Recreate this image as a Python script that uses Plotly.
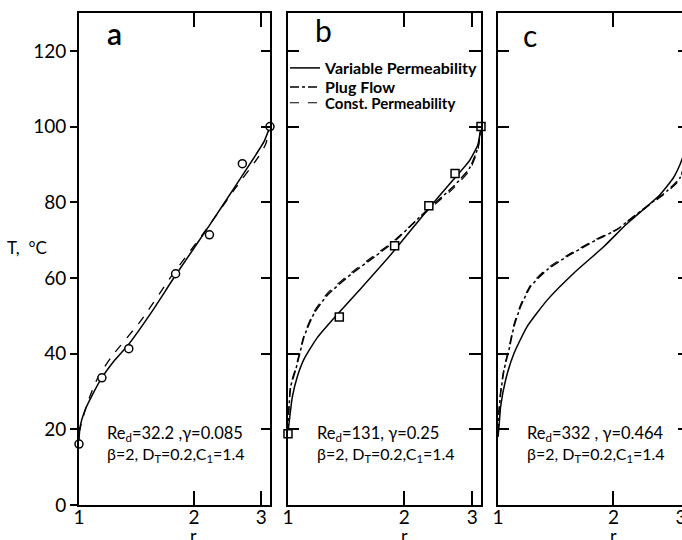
import math
import plotly.graph_objects as go

# ---------------- data ----------------
# Panel a
a_vp_r = [1.0, 1.006, 1.037, 1.079, 1.146, 1.241, 1.345, 1.547, 1.779, 2.195, 2.577, 2.906, 3.05, 3.162]
a_vp_T = [17.0, 20.6, 25.1, 28.7, 33.5, 38.3, 42.3, 50.9, 60.3, 73.9, 84.5, 92.6, 96.0, 100.0]
a_cp_r = [1.0, 1.026, 1.068, 1.123, 1.217, 1.457, 1.744, 2.16, 2.55, 2.95, 3.08, 3.162]
a_cp_T = [19.0, 23.4, 28.7, 33.9, 39.2, 48.9, 60.4, 73.0, 83.3, 92.0, 95.3, 100.0]
a_pts_r = [1.0, 1.148, 1.35, 1.79, 2.195, 2.677, 3.162]
a_pts_T = [16.1, 33.6, 41.3, 61.1, 71.4, 90.2, 100.0]

# Panel b
b_vp_r = [1.0, 1.006, 1.026, 1.057, 1.101, 1.192, 1.345, 1.547, 1.852, 2.321, 2.673, 2.953, 3.104, 3.162]
b_vp_T = [19.0, 21.5, 28.5, 33.9, 38.6, 44.3, 50.5, 57.3, 66.3, 78.5, 85.8, 91.0, 95.2, 100.0]
b_pf_r = [1.0, 1.005, 1.016, 1.047, 1.068, 1.101, 1.169, 1.266, 1.458, 1.676, 1.87, 2.185, 2.32, 2.673, 2.953, 3.104, 3.162]
b_pf_T = [19.0, 25.0, 31.3, 35.7, 39.2, 44.5, 50.7, 55.5, 61.0, 65.6, 69.3, 75.9, 78.4, 84.0, 89.0, 94.4, 100.0]
b_cp_r = [1.0, 1.005, 1.016, 1.047, 1.068, 1.101, 1.169, 1.266, 1.458, 1.676, 1.87, 2.185, 2.32, 2.673, 2.953, 3.104, 3.162]
b_cp_T = [19.0, 25.5, 31.8, 36.3, 39.8, 45.0, 51.2, 56.0, 61.4, 66.0, 69.6, 75.8, 78.1, 83.5, 88.4, 93.8, 100.0]
b_pts_r = [1.0, 1.358, 1.889, 2.317, 2.709, 3.162]
b_pts_T = [18.8, 49.7, 68.5, 79.1, 87.6, 100.0]

# Panel c
c_vp_r = [1.0, 1.006, 1.016, 1.047, 1.101, 1.192, 1.345, 1.578, 1.889, 2.131, 2.254, 2.644, 2.864, 2.98, 3.08, 3.162]
c_vp_T = [18.0, 20.7, 26.0, 33.1, 40.1, 47.2, 54.2, 61.3, 68.3, 73.6, 75.8, 82.0, 86.4, 89.9, 94.0, 100.0]
c_pf_r = [1.0, 1.005, 1.016, 1.037, 1.068, 1.101, 1.146, 1.217, 1.345, 1.516, 1.8, 2.046, 2.166, 2.54, 2.754, 2.98, 3.08, 3.162]
c_pf_T = [19.0, 24.0, 29.5, 35.7, 41.0, 47.2, 52.5, 57.8, 62.2, 65.7, 70.0, 72.8, 74.8, 80.2, 82.9, 86.4, 91.0, 100.0]
c_cp_r = [1.0, 1.005, 1.016, 1.037, 1.068, 1.101, 1.146, 1.217, 1.345, 1.516, 1.8, 2.046, 2.166, 2.54, 2.754, 2.98, 3.08, 3.162]
c_cp_T = [19.0, 24.5, 30.2, 36.3, 41.6, 47.8, 53.0, 58.2, 62.6, 66.0, 70.2, 72.9, 74.8, 80.0, 82.6, 86.0, 90.6, 100.0]

y_ticks = [0, 20, 40, 60, 80, 100, 120]
x_ticks = [1, 2, 3]
series_names = ["Variable Permeability", "Plug Flow", "Const. Permeability"]
panel_labels = ["a", "b", "c"]
ann_line1 = ["Re<sub>d</sub>=32.2 ,γ=0.085", "Re<sub>d</sub>=131, γ=0.25", "Re<sub>d</sub>=332 , γ=0.464"]
ann_line2 = ["β=2, D<sub>T</sub>=0.2,C<sub>1</sub>=1.4"] * 3

# ---------------- figure ----------------
W, H = 682, 540
FONT = "Lato"
fig = go.Figure()

def line(xa, ya, r, T, dash, name, legend=None, width=1.5):
    fig.add_trace(go.Scatter(x=r, y=T, mode="lines", xaxis=xa, yaxis=ya,
                             line=dict(color="black", width=width, dash=dash, shape="spline", smoothing=0.5),
                             name=name, showlegend=legend is not None,
                             legend=legend if legend else "legend", hoverinfo="skip"))

def pts(xa, ya, r, T, symbol):
    fig.add_trace(go.Scatter(x=r, y=T, mode="markers", xaxis=xa, yaxis=ya, cliponaxis=False,
                             marker=dict(symbol=symbol, size=8, color="white",
                                         line=dict(color="black", width=1.5)),
                             showlegend=False, hoverinfo="skip"))

# panel a
line("x", "y", a_vp_r, a_vp_T, "solid", series_names[0])
line("x", "y", a_cp_r, a_cp_T, "dash", series_names[2], None, 1.3)
pts("x", "y", a_pts_r, a_pts_T, "circle")
# panel b
line("x2", "y2", b_vp_r, b_vp_T, "solid", series_names[0], "legend")
line("x2", "y2", b_pf_r, b_pf_T, "dashdot", series_names[1], "legend2")
line("x2", "y2", b_cp_r, b_cp_T, "dash", series_names[2], "legend3", 1.1)
pts("x2", "y2", b_pts_r, b_pts_T, "square")
# panel c
line("x3", "y3", c_vp_r, c_vp_T, "solid", series_names[0])
line("x3", "y3", c_pf_r, c_pf_T, "dashdot", series_names[1])
line("x3", "y3", c_cp_r, c_cp_T, "dash", series_names[2], None, 1.1)

# geometry (pixels)
left_px = [79, 288, 498]
right_px = [270, 481, 682]
top_px, bot_px = 13, 505
ydom = [(H - bot_px) / H, (H - top_px) / H]
px_per_decade = 183 / math.log10(3)

def leg(ypx, size):
    return dict(x=285 / W, y=1 - ypx / H, xanchor="left", yanchor="middle",
                bgcolor="rgba(0,0,0,0)", borderwidth=0,
                font=dict(family=FONT, size=size, color="black", weight="bold"),
                itemwidth=30)

layout = dict(width=W, height=H, margin=dict(l=0, r=0, t=0, b=0, autoexpand=False), autosize=False,
              paper_bgcolor="white", plot_bgcolor="white",
              font=dict(family=FONT, color="black", size=17),
              showlegend=True,
              legend=leg(68, 16), legend2=leg(87, 16), legend3=leg(103, 15))

LW = 1.6
for i in range(3):
    sfx = "" if i == 0 else str(i + 1)
    xr_end = (right_px[i] - left_px[i]) / px_per_decade
    if i < 2:
        xr_end = 0.5
    layout["xaxis" + sfx] = dict(type="log", domain=[left_px[i] / W, right_px[i] / W],
                                 range=[0, xr_end], anchor="y" + sfx,
                                 tickvals=x_ticks, ticktext=[str(v) for v in x_ticks],
                                 ticks="inside", ticklen=14, tickwidth=LW, tickcolor="black",
                                 showline=True, linecolor="black", linewidth=LW, mirror="ticks",
                                 showgrid=False, zeroline=False, ticklabelstandoff=-6,
                                 ticklabeloverflow="allow",
                                 tickfont=dict(family=FONT, size=19))
    layout["yaxis" + sfx] = dict(domain=ydom, range=[0, 130], anchor="x" + sfx,
                                 tickvals=y_ticks,
                                 ticks="outside" if i == 0 else "inside",
                                 ticklen=7 if i == 0 else 11, tickwidth=LW, tickcolor="black",
                                 showticklabels=(i == 0),
                                 showline=True, linecolor="black", linewidth=LW,
                                 showgrid=False, zeroline=False,
                                 tickfont=dict(family=FONT, size=19))
    # right-hand axis with inward ticks
    rsfx = str(i + 4)
    layout["yaxis" + rsfx] = dict(overlaying="y" + sfx, side="right", anchor="x" + sfx,
                                  range=[0, 130], tickvals=y_ticks, ticks="inside",
                                  ticklen=[9, 12, 4][i], tickwidth=LW, tickcolor="black",
                                  showticklabels=False, showline=(i < 2),
                                  linecolor="black", linewidth=LW,
                                  showgrid=False, zeroline=False)

fig.update_layout(**layout)

# dummy traces to activate right axes
for i in range(3):
    xa = "x" if i == 0 else "x" + str(i + 1)
    fig.add_trace(go.Scatter(x=[1], y=[0], xaxis=xa, yaxis="y" + str(i + 4), mode="markers",
                             marker=dict(opacity=0), showlegend=False, hoverinfo="skip"))

# annotations
letter_pos = [(115, 33), (323, 30), (530, 35)]
ann_x = [105, 315, 525]
for i in range(3):
    fig.add_annotation(text=panel_labels[i], x=letter_pos[i][0] / W, y=1 - letter_pos[i][1] / H,
                       xref="paper", yref="paper", showarrow=False, xanchor="center", yanchor="middle",
                       font=dict(family=FONT, size=30, color="black", weight=600 if i == 0 else 400))
    fig.add_annotation(text=ann_line1[i], x=ann_x[i] / W, y=1 - 433 / H,
                       xref="paper", yref="paper", showarrow=False, xanchor="left", yanchor="middle",
                       font=dict(family=FONT, size=16.5, color="black"))
    fig.add_annotation(text=ann_line2[i], x=ann_x[i] / W, y=1 - 454 / H,
                       xref="paper", yref="paper", showarrow=False, xanchor="left", yanchor="middle",
                       font=dict(family=FONT, size=16, color="black"))
    xa = "x" if i == 0 else "x" + str(i + 1)
    fig.add_annotation(text="r", x=math.log10(2), xref=xa, y=1 - 535 / H, yref="paper",
                       showarrow=False, xanchor="center", yanchor="middle",
                       font=dict(family=FONT, size=18, color="black"))

fig.add_annotation(text="T,  °C", x=27 / W, y=1 - 247 / H, xref="paper", yref="paper",
                   showarrow=False, xanchor="center", yanchor="middle",
                   font=dict(family=FONT, size=17, color="black"))

fig.write_html("out.html", config={"displayModeBar": False},
               post_script="document.body.style.margin='0';")
